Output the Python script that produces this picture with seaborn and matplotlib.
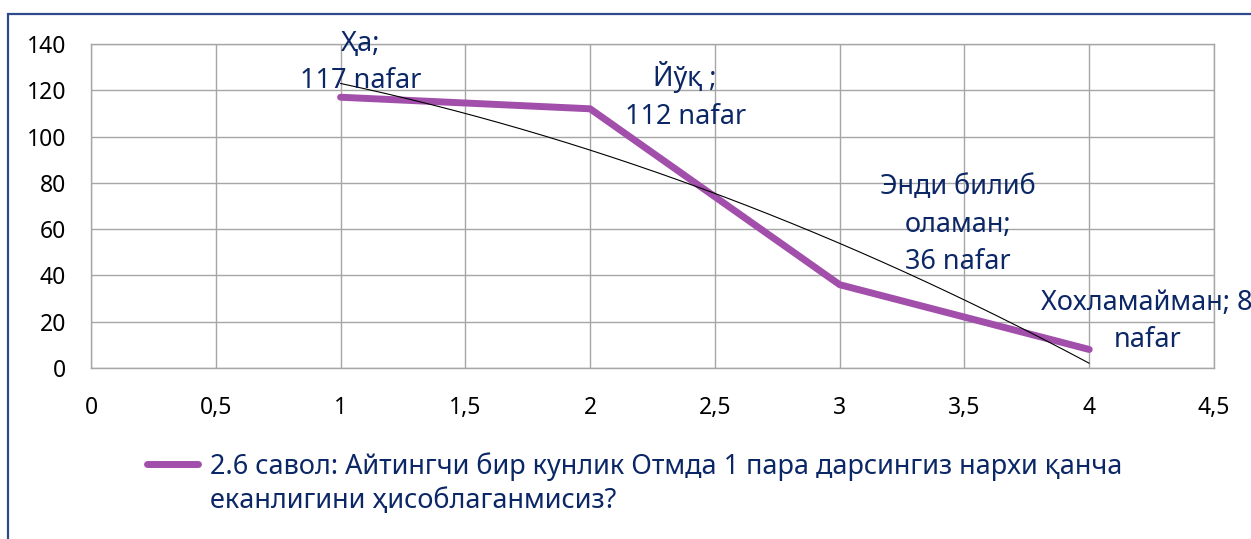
import numpy as np
import pandas as pd
import matplotlib
matplotlib.use("Agg")
import matplotlib.pyplot as plt
import matplotlib.patches as mpatches
from matplotlib.legend_handler import HandlerLine2D
import seaborn as sns

# ---- data ----
x_values = [1, 2, 3, 4]
counts = [117, 112, 36, 8]
point_labels = ["Ҳа;\n117 nafar", "Йўқ ;\n112 nafar",
                "Энди билиб\nоламан;\n36 nafar", "Хохламайман; 8\nnafar"]
series_name = ("2.6 савол: Айтингчи бир кунлик Отмда 1 пара дарсингиз нархи қанча\n"
               "еканлигини ҳисоблаганмисиз?")
x_ticks = [0, 0.5, 1, 1.5, 2, 2.5, 3, 3.5, 4, 4.5]
x_ticklabels = ["0", "0,5", "1", "1,5", "2", "2,5", "3", "3,5", "4", "4,5"]
y_ticks = [0, 20, 40, 60, 80, 100, 120, 140]

sns.set_style("white")
plt.rcParams['font.family'] = ['Noto Sans', 'DejaVu Sans']

PURPLE = "#A24FAB"
NAVY = "#0B2766"
GRID = "#A6A6A6"


class UpperLineHandler(HandlerLine2D):
    """Place the legend line level with the first text line."""
    def create_artists(self, legend, orig_handle, xdescent, ydescent,
                       width, height, fontsize, trans):
        return super().create_artists(legend, orig_handle, xdescent,
                                      ydescent - 30, width, height,
                                      fontsize, trans)


fig = plt.figure(figsize=(12.51, 5.39), dpi=100)
ax = fig.add_axes([91/1251, 1-368/539, (1214-91)/1251, (368-44)/539])

df = pd.DataFrame({"x": x_values, "y": counts})
sns.lineplot(data=df, x="x", y="y", ax=ax, color=PURPLE, linewidth=5,
             solid_capstyle="round", solid_joinstyle="round", label=series_name,
             zorder=3)

# polynomial (order 2) trendline
coef = np.polyfit(x_values, counts, 2)
xs = np.linspace(min(x_values), max(x_values), 200)
ax.plot(xs, np.polyval(coef, xs), color="black", linewidth=0.8, zorder=4)

ax.set_xlim(0, 4.5)
ax.set_ylim(0, 140)
ax.set_xticks(x_ticks)
ax.set_xticklabels(x_ticklabels)
ax.set_yticks(y_ticks)
ax.set_xlabel("")
ax.set_ylabel("")
ax.grid(True, color=GRID, linewidth=1)
for s in ax.spines.values():
    s.set_color(GRID)
    s.set_linewidth(1)
ax.tick_params(axis="both", length=0, labelsize=16.5, colors="black")
ax.tick_params(axis="x", pad=20)
ax.tick_params(axis="y", pad=18)

offsets = [(20, 35), (95, 13), (118, 60), (58, 28)]
for xv, yv, lab, off in zip(x_values, counts, point_labels, offsets):
    ax.annotate(lab, (xv, yv), xytext=off, textcoords="offset pixels",
                ha="center", va="center", multialignment="center",
                fontsize=19.5, color=NAVY, linespacing=1.45, zorder=5,
                annotation_clip=False)

line_handle = ax.get_lines()[0]
leg = ax.legend(handles=[line_handle], labels=[series_name],
                handler_map={line_handle: UpperLineHandler()},
                loc="upper left", bbox_to_anchor=(136/1251, 1-441/539),
                bbox_transform=fig.transFigure, frameon=False, fontsize=19.5,
                handlelength=1.9, handletextpad=0.45, borderaxespad=0)
for t in leg.get_texts():
    t.set_color(NAVY)
    t.set_linespacing(1.3)
for h in leg.get_lines():
    h.set_linewidth(5)

# outer chart frame
frame = mpatches.Rectangle((8/1251, -0.1), 1.2, 1-14/539+0.1,
                           transform=fig.transFigure, fill=False,
                           edgecolor="#2E4A8C", linewidth=1.6, clip_on=False)
fig.patches.append(frame)

fig.savefig("out.png", dpi=100)
